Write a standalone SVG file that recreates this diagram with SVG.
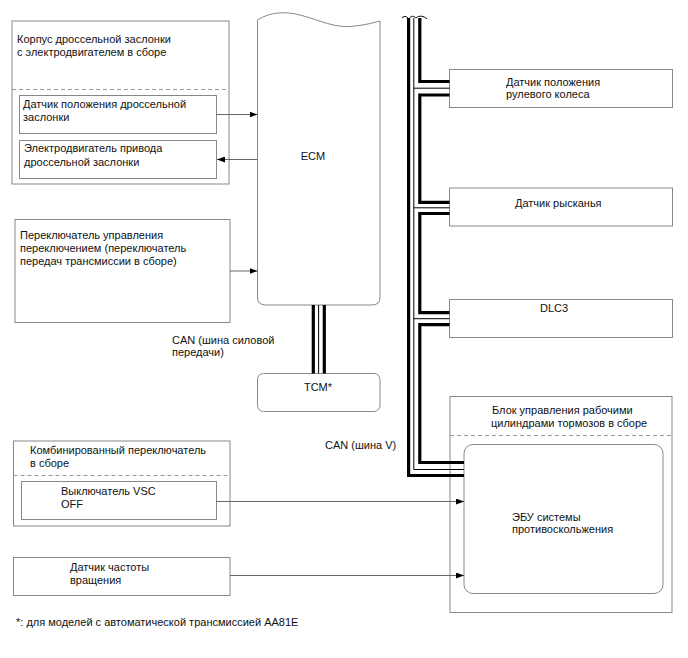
<svg xmlns="http://www.w3.org/2000/svg" width="688" height="658" viewBox="0 0 688 658">
<style>
text{font-family:"Liberation Sans",Arial,sans-serif;font-size:11px;fill:#111}
.box{fill:#fff;stroke:#888;stroke-width:1}
.dash{stroke:#999;stroke-width:1;stroke-dasharray:4,3;fill:none}
.wire{stroke:#666;stroke-width:1;fill:none}
.thick{stroke:#000;stroke-width:3.2;fill:none}
.thin{stroke:#000;stroke-width:1;fill:none}
</style>
<defs>
<marker id="ah" viewBox="0 0 8 6" refX="8" refY="3" markerWidth="8" markerHeight="6" markerUnits="userSpaceOnUse" orient="auto">
<path d="M0,0 L8,3 L0,6 Z" fill="#000"/>
</marker>
</defs>
<rect width="688" height="658" fill="#fff"/>

<g id="throttle-body">
<rect class="box" x="12" y="21" width="217" height="163"/>
<text x="17" y="43">Корпус дроссельной заслонки</text>
<text x="17" y="56">с электродвигателем в сборе</text>
<line class="dash" x1="12" y1="89.5" x2="229" y2="89.5"/>
</g>
<g id="tps">
<rect class="box" x="19.5" y="95.5" width="197" height="38"/>
<text x="23" y="108">Датчик положения дроссельной</text>
<text x="23" y="121">заслонки</text>
</g>
<g id="throttle-motor">
<rect class="box" x="19.5" y="140.5" width="197" height="38"/>
<text x="24" y="152">Электродвигатель привода</text>
<text x="24" y="166">дроссельной заслонки</text>
</g>

<g id="shift-switch">
<rect class="box" x="15" y="219.5" width="215" height="103"/>
<text x="20" y="239">Переключатель управления</text>
<text x="20" y="252">переключением (переключатель</text>
<text x="20" y="265">передач трансмиссии в сборе)</text>
</g>

<g id="ecm">
<path class="box" d="M257.5,20 C270,12 285,11 300,15 C320,20 335,29 355,26 C365,25 372,23 380,21 L380,297 Q380,305 372,305 L265.5,305 Q257.5,305 257.5,297 Z"/>
<text x="313" y="160" text-anchor="middle">ECM</text>
</g>

<g id="tcm">
<rect class="box" x="257.5" y="373.5" width="122.5" height="38" rx="6"/>
<text x="318" y="391" text-anchor="middle">TCM*</text>
</g>

<g id="combo-switch">
<rect class="box" x="13.5" y="441" width="216.5" height="85"/>
<text x="30" y="454">Комбинированный переключатель</text>
<text x="30" y="467">в сборе</text>
<line class="dash" x1="13.5" y1="475.5" x2="230" y2="475.5"/>
</g>
<g id="vsc-off">
<rect class="box" x="21.5" y="481.5" width="195" height="38"/>
<text x="61" y="495">Выключатель VSC</text>
<text x="61" y="508">OFF</text>
</g>

<g id="speed-sensor">
<rect class="box" x="13.5" y="557.5" width="216.5" height="38"/>
<text x="70" y="571">Датчик частоты</text>
<text x="70" y="583.5">вращения</text>
</g>

<g id="steering-sensor">
<rect class="box" x="449.5" y="69.5" width="223" height="38"/>
<text x="506" y="86">Датчик положения</text>
<text x="506" y="98">рулевого колеса</text>
</g>
<g id="yaw-sensor">
<rect class="box" x="449.5" y="188" width="223" height="38"/>
<text x="515" y="207">Датчик рысканья</text>
</g>
<g id="dlc3">
<rect class="box" x="449.5" y="299.5" width="223" height="38"/>
<text x="540" y="312">DLC3</text>
</g>

<g id="brake-actuator">
<rect class="box" x="450" y="396.5" width="222" height="216"/>
<text x="492" y="414">Блок управления рабочими</text>
<text x="491" y="427">цилиндрами тормозов в сборе</text>
<line class="dash" x1="450" y1="435.5" x2="672" y2="435.5"/>
</g>
<g id="skid-ecu">
<rect class="box" x="464" y="444.5" width="199" height="149" rx="9"/>
<text x="512" y="521">ЭБУ системы</text>
<text x="512" y="533">противоскольжения</text>
</g>

<g id="connectors">
<line class="wire" x1="216.5" y1="114.5" x2="257.5" y2="114.5" marker-end="url(#ah)"/>
<line class="wire" x1="257.5" y1="159.5" x2="217" y2="159.5" marker-end="url(#ah)"/>
<line class="wire" x1="230" y1="271" x2="257.5" y2="271" marker-end="url(#ah)"/>
<line class="wire" x1="216.5" y1="501.5" x2="464" y2="501.5" marker-end="url(#ah)"/>
<line class="wire" x1="230" y1="575.5" x2="464" y2="575.5" marker-end="url(#ah)"/>

<g id="can-power">
<line class="thick" x1="313.3" y1="305" x2="313.3" y2="373.5"/>
<line class="thin" x1="318.6" y1="305" x2="318.6" y2="373.5"/>
<line class="thick" x1="324.3" y1="305" x2="324.3" y2="373.5"/>
</g>

<g id="can-v">
<path class="thin" d="M402,18 C405,15 407,17 409,19 C411,15 414,16 416,18 C419,15 424,16 427,19"/>
<polyline class="thick" points="408.6,18 408.6,475.5 464,475.5"/>
<polyline class="thin" points="413.8,18 413.8,469.5 464,469.5"/>
<line class="thin" x1="413.8" y1="88.2" x2="449.5" y2="88.2"/>
<line class="thin" x1="413.8" y1="207.8" x2="449.5" y2="207.8"/>
<line class="thin" x1="413.8" y1="318.7" x2="449.5" y2="318.7"/>
<polyline class="thick" points="419.8,18 419.8,81.5 449.5,81.5"/>
<polyline class="thick" points="449.5,95 419.8,95 419.8,202.3 449.5,202.3"/>
<polyline class="thick" points="449.5,213.5 419.8,213.5 419.8,312.6 449.5,312.6"/>
<polyline class="thick" points="449.5,324.6 419.8,324.6 419.8,462.5 464,462.5"/>
</g>
</g>

<text x="172" y="344">CAN (шина силовой</text>
<text x="172" y="356">передачи)</text>
<text x="325" y="449">CAN (шина V)</text>
<text x="16" y="626">*: для моделей с автоматической трансмиссией AA81E</text>
</svg>
